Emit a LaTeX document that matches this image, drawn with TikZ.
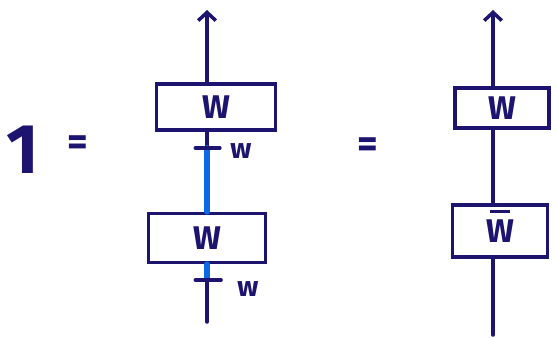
\documentclass[tikz,border=0pt]{standalone}
\usepackage{fontspec}
\setmainfont{Fira Sans}
\usetikzlibrary{arrows.meta,positioning}
\definecolor{ink}{RGB}{28,20,110}
\definecolor{pen}{RGB}{12,104,228}
\newcommand{\barW}{\setbox0\hbox{W}%
  \rlap{\hbox to\wd0{\hss\raisebox{1.3\ht0}[0pt][0pt]{\rule{0.75\wd0}{2.6pt}}\hss}}\box0}

\begin{document}
\begin{tikzpicture}[
      x=0.03cm, y=-0.03cm,
      line width=3pt, line cap=round,
      >={Straight Barb[length=7pt,width=15pt,line width=3pt]},
      gate/.style={draw=ink, text=ink, inner sep=0pt,
                   font=\fontsize{28}{32}\selectfont\bfseries},
      wire/.style={draw=ink},
      leg/.style={draw=pen, line width=5pt},
      lbl/.style={text=ink, font=\fontsize{24}{28}\selectfont\bfseries},
      big/.style={text=ink, font=\fontsize{60}{70}\selectfont\bfseries}
  ]
      \useasboundingbox (0,0) rectangle (558,339);

      % Linke Seite
      \node[big] (one) at (23,150) {1};
      \node[big, font=\fontsize{34}{40}\selectfont\bfseries] (eqa) at (78,146) {=};

      % Kasten oben und unten
      \node[gate, minimum width=3.57cm, minimum height=1.38cm] (wa) at (216,107) {W};
      \node[gate, minimum width=3.51cm, minimum height=1.47cm] (wb) at (207,238) {W};

      \coordinate (topa) at (207,10);
      \coordinate (ka)   at (207,148);
      \coordinate (kb)   at (207,280);
      \coordinate (bota) at (207,322);

      \draw[wire,->] (wa.north -| topa) -- (topa);
      \draw[wire] (wa.south -| ka) -- (ka);
      \draw[leg]  (ka) -- (wb.north -| ka);
      \draw[leg]  (wb.south -| kb) -- (kb);
      \draw[wire] (kb) -- (bota);

      % Striche
      \draw[wire] ([xshift=-10]ka) -- ([xshift=11]ka);
      \draw[wire] ([xshift=-10]kb) -- ([xshift=12]kb);
      \node[lbl] (la) at (241,151) {w};
      \node[lbl] (lb) at (248,289) {w};

      \node[big, font=\fontsize{34}{40}\selectfont\bfseries] (eqb) at (368,148) {=};

      % Rechte Seite
      \node[gate, minimum width=2.82cm, minimum height=1.2cm] (wc) at (502,108) {W};
      \node[gate, minimum width=2.85cm, minimum height=1.56cm] (wd) at (500,231) {\barW};

      \coordinate (topb) at (493,10);
      \coordinate (botb) at (493,335);

      \draw[wire,->] (wc.north -| topb) -- (topb);
      \draw[wire] (wc.south -| topb) -- (wd.north -| topb);
      \draw[wire] (wd.south -| botb) -- (botb);
\end{tikzpicture}
\end{document}
